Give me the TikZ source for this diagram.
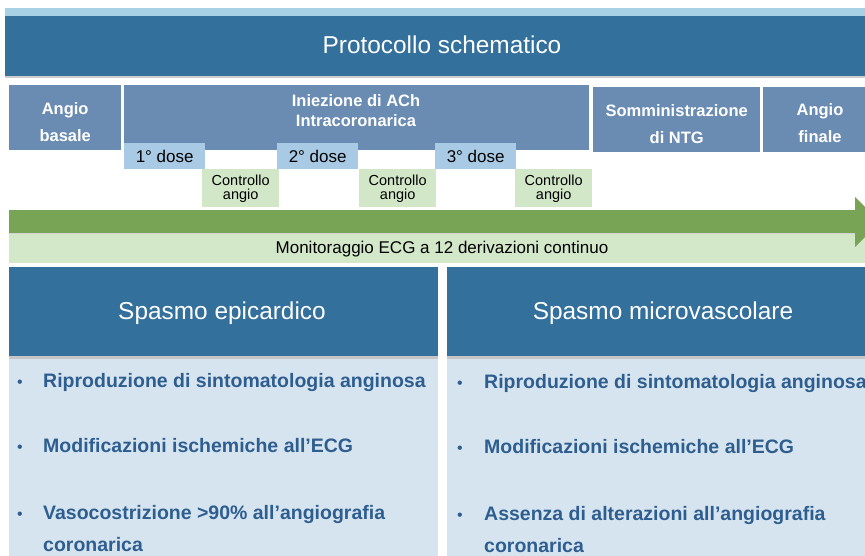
\documentclass[tikz,border=0pt]{standalone}
\usepackage{fontspec}
\setmainfont{Liberation Sans}
\usetikzlibrary{positioning,calc}
\definecolor{hdrblue}{HTML}{33709C}
\definecolor{stripblue}{HTML}{A9D1E5}
\definecolor{steel}{HTML}{6A8CB2}
\definecolor{doseblue}{HTML}{A9CAE4}
\definecolor{ctrlgreen}{HTML}{D2E7C8}
\definecolor{arrowgreen}{HTML}{77A555}
\definecolor{bandgreen}{HTML}{D3E7C9}
\definecolor{bodyblue}{HTML}{D6E4EF}
\definecolor{bullettext}{HTML}{2E5E90}
\tikzset{
  box/.style={draw=none, inner sep=0pt, anchor=north west},
  whitebold/.style={text=white, font=\fontsize{16.5}{27}\selectfont\bfseries, align=center, inner sep=0pt},
  dosetxt/.style={font=\fontsize{17}{20}\selectfont, inner sep=0pt},
  ctrltxt/.style={font=\fontsize{14.5}{13.5}\selectfont, align=center, inner sep=0pt},
  bigtxt/.style={text=white, font=\fontsize{24.4}{28}\selectfont, inner sep=0pt},
  bul/.style={text=bullettext, font=\fontsize{19.5}{32}\selectfont\bfseries, anchor=base west, inner sep=0pt, align=left},
  dot/.style={text=bullettext, font=\fontsize{16}{20}\selectfont, anchor=base west, inner sep=0pt},
}
\begin{document}
\begin{tikzpicture}[x=1pt,y=-1pt]
\useasboundingbox (0,0) rectangle (865,556);
\fill[white] (0,0) rectangle (865,556);
% title
\node[box, fill=stripblue, minimum width=860pt, minimum height=8pt] (strip) at (5,8) {};
\fill[gray!40] (5,76) rectangle (865,78.5);
\node[box, fill=hdrblue, minimum width=860pt, minimum height=60pt] (title) at (5,16) {};
\node[bigtxt] (titletxt) at (442,45) {Protocollo schematico};
% top row boxes
\node[box, fill=steel, minimum width=112pt, minimum height=65pt] (basale) at (9,85) {};
\node[whitebold] (basaletxt) at ($(basale.center)+(0,4)$) {Angio\\basale};
\node[box, fill=steel, minimum width=465pt, minimum height=65pt] (ach) at (124,85) {};
\node[whitebold, font=\fontsize{16.5}{20}\selectfont\bfseries] (achtxt) at (356,111) {Iniezione di ACh\\Intracoronarica};
\node[box, fill=steel, minimum width=167pt, minimum height=65pt] (ntg) at (593,87) {};
\node[whitebold] (ntgtxt) at ($(ntg.center)+(0,4)$) {Somministrazione\\di NTG};
\node[box, fill=steel, minimum width=102pt, minimum height=65pt] (finale) at (763,87) {};
\node[whitebold] (finaletxt) at (820,123.5) {Angio\\finale};
% doses
\foreach \n/\x/\t in {1/124/1° dose,2/277/2° dose,3/435/3° dose}{
  \node[box, fill=doseblue, minimum width=81pt, minimum height=26pt] (dose\n) at (\x,143) {};
  \node[dosetxt] (dosetxt\n) at (dose\n.center) {\t};
}
\foreach \n/\x in {1/202,2/359,3/515}{
  \node[box, fill=ctrlgreen, minimum width=77pt, minimum height=38pt] (ctrl\n) at (\x,169) {};
  \node[ctrltxt] (ctrltxt\n) at ($(ctrl\n.center)+(0,0.5)$) {Controllo\\angio};
}
% arrow and band
\fill[gray!35] (9,233) rectangle (865,235);
\node[box, fill=arrowgreen, minimum width=847pt, minimum height=23pt] (arrowbar) at (9,210) {};
\node[box, fill=bandgreen, minimum width=856pt, minimum height=29pt] (band) at (9,234) {};
\coordinate (headtop) at (855,197);
\coordinate (headbot) at (855,247);
\coordinate (headtip) at (880,222);
\fill[arrowgreen] (headtop) -- (headtip) -- (headbot) -- cycle;
\node[font=\fontsize{17}{20}\selectfont, inner sep=0pt] (bandtxt) at (442,249) {Monitoraggio ECG a 12 derivazioni continuo};
% panels
\node[box, fill=bodyblue, minimum width=429pt, minimum height=200pt] (lbody) at (9,356) {};
\node[box, fill=bodyblue, minimum width=418pt, minimum height=200pt] (rbody) at (447,356) {};
\fill[gray!45] (9,356) rectangle (438,359);
\fill[gray!45] (447,356) rectangle (865,359);
\node[box, fill=hdrblue, minimum width=429pt, minimum height=89pt] (lhead) at (9,267) {};
\node[box, fill=hdrblue, minimum width=418pt, minimum height=89pt] (rhead) at (447,267) {};
\node[bigtxt] (lheadtxt) at (222,313) {Spasmo epicardico};
\node[bigtxt] (rheadtxt) at (663,313) {Spasmo microvascolare};
% left bullets
\node[dot] (ld1) at (17,387) {•};
\node[bul] (lb1) at (43,387) {Riproduzione di sintomatologia anginosa};
\node[dot] (ld2) at (17,452) {•};
\node[bul] (lb2) at (43,452) {Modificazioni ischemiche all’ECG};
\node[dot] (ld3) at (17,519) {•};
\node[bul] (lb3) at (43,551) {Vasocostrizione >90\% all’angiografia\\coronarica};
% right bullets
\node[dot] (rd1) at (457,388) {•};
\node[bul] (rb1) at (484,388) {Riproduzione di sintomatologia anginosa};
\node[dot] (rd2) at (457,453) {•};
\node[bul] (rb2) at (484,453) {Modificazioni ischemiche all’ECG};
\node[dot] (rd3) at (457,520) {•};
\node[bul] (rb3) at (484,552) {Assenza di alterazioni all’angiografia\\coronarica};
\end{tikzpicture}
\end{document}
